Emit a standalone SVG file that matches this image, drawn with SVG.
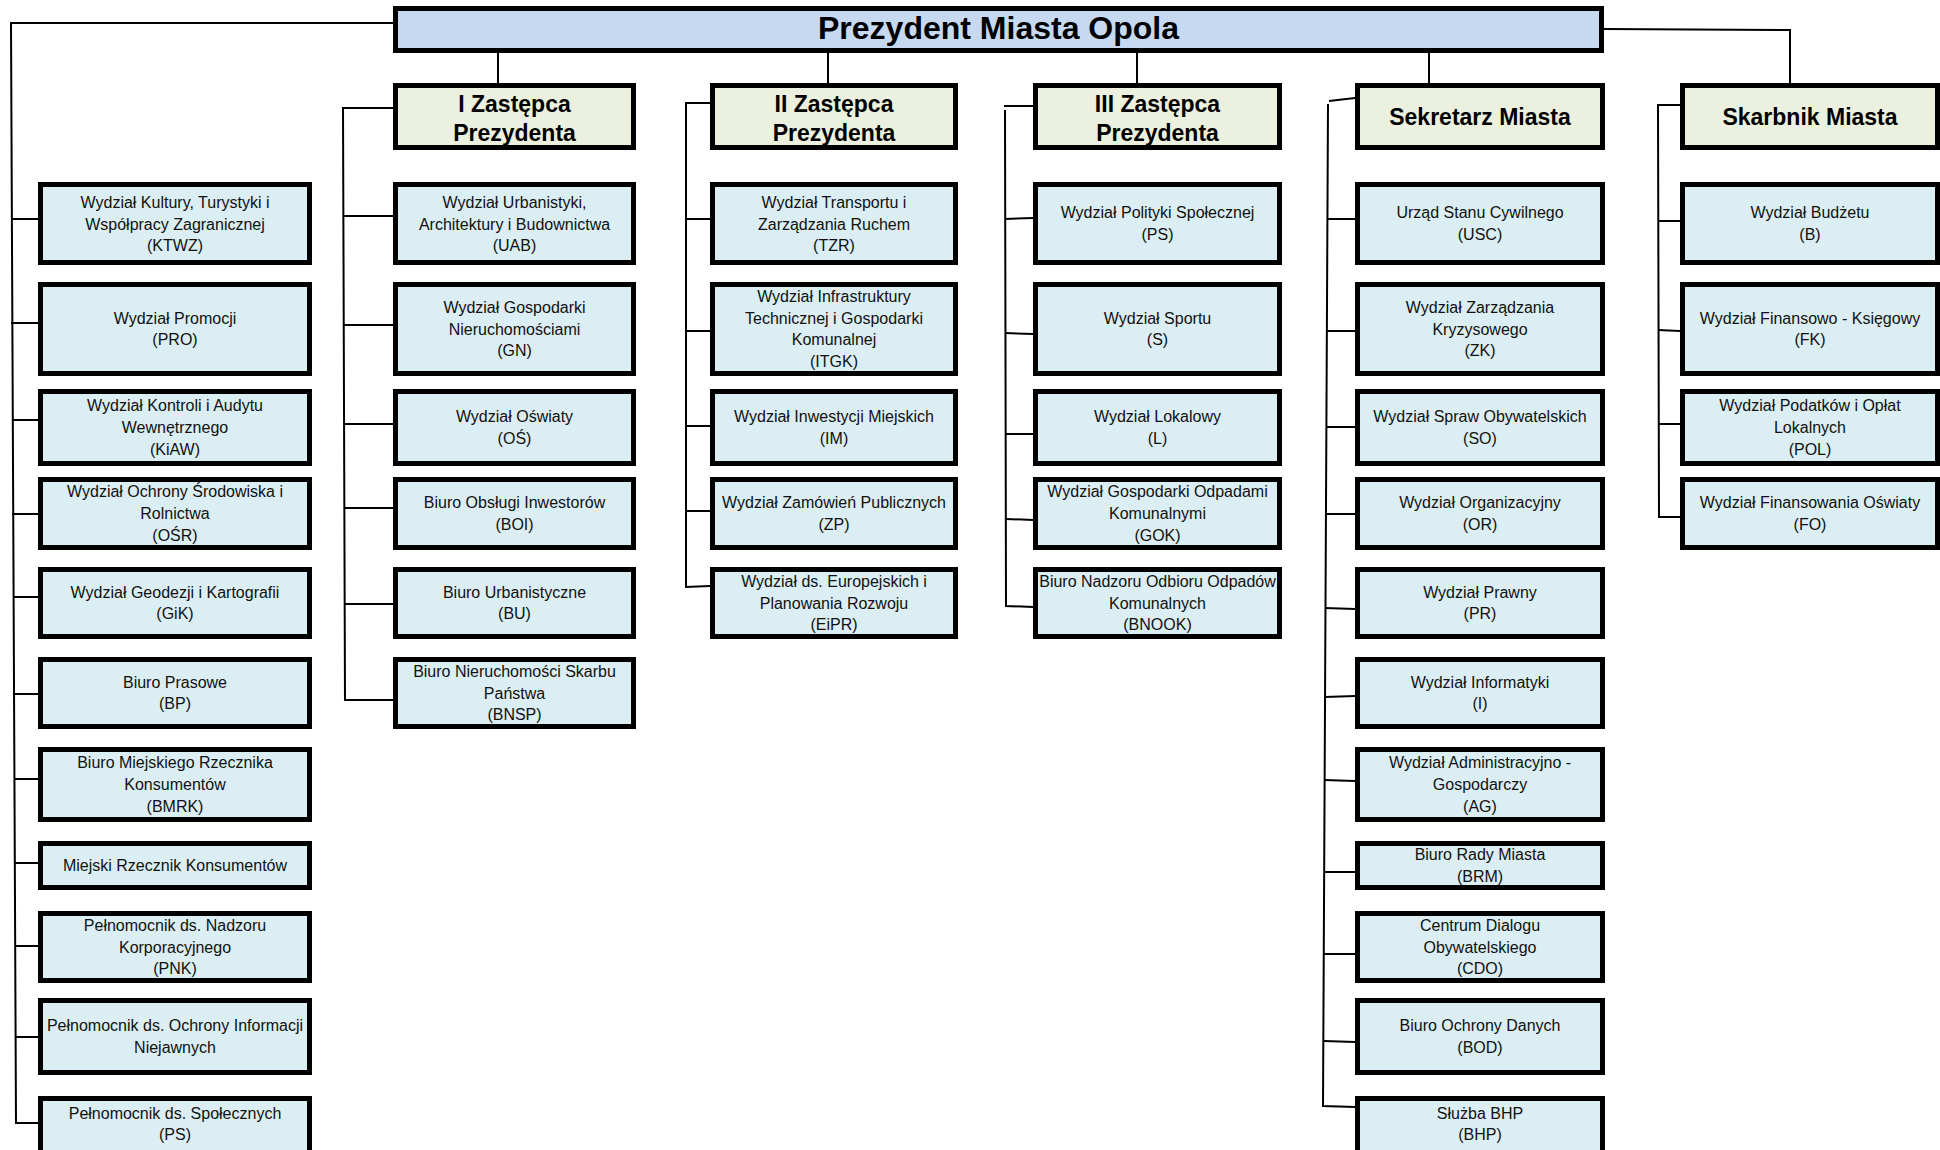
<svg xmlns="http://www.w3.org/2000/svg" width="1940" height="1150" viewBox="0 0 1940 1150">
<style>
.bx{fill:#dbeef3;stroke:#000;stroke-width:5}
.hd{fill:#ebf1de;stroke:#000;stroke-width:5}
.tp{fill:#c6d9f1;stroke:#000;stroke-width:5}
.t{font-family:"Liberation Sans",Arial,sans-serif;font-size:16px;fill:#111;text-anchor:middle}
.h{font-family:"Liberation Sans",Arial,sans-serif;font-size:23px;font-weight:bold;fill:#000;text-anchor:middle}
.ti{font-family:"Liberation Sans",Arial,sans-serif;font-size:32px;font-weight:bold;fill:#000;text-anchor:middle}
.c{fill:none;stroke:#000;stroke-width:2}
</style>
<rect width="1940" height="1150" fill="#fff"/>
<g id="connectors" class="c">
<polyline points="393,23 11,23 16,1124"/>
<line x1="11" y1="219" x2="38" y2="219"/>
<line x1="11" y1="323" x2="38" y2="323"/>
<line x1="12" y1="420" x2="38" y2="420"/>
<line x1="12" y1="514" x2="38" y2="514"/>
<line x1="13" y1="597" x2="38" y2="597"/>
<line x1="13" y1="694" x2="38" y2="694"/>
<line x1="14" y1="779" x2="38" y2="779"/>
<line x1="14" y1="863" x2="38" y2="863"/>
<line x1="15" y1="946" x2="38" y2="946"/>
<line x1="15" y1="1037" x2="38" y2="1037"/>
<line x1="16" y1="1123" x2="38" y2="1123"/>
<line x1="498" y1="53" x2="498" y2="83"/>
<line x1="828" y1="53" x2="828" y2="83"/>
<line x1="1137" y1="53" x2="1137" y2="83"/>
<line x1="1429" y1="53" x2="1429" y2="83"/>
<polyline points="1604,29 1790,30 1790,83"/>
<polyline points="393,108 343,108 345,700 393,700"/>
<line x1="344" y1="216" x2="393" y2="216"/>
<line x1="344" y1="325" x2="393" y2="325"/>
<line x1="344" y1="424" x2="393" y2="424"/>
<line x1="345" y1="508" x2="393" y2="508"/>
<line x1="345" y1="604" x2="393" y2="604"/>
<polyline points="710,103 686,103 686,587 710,586"/>
<line x1="686" y1="219" x2="710" y2="219"/>
<line x1="686" y1="331" x2="710" y2="331"/>
<line x1="686" y1="426" x2="710" y2="426"/>
<line x1="686" y1="511" x2="710" y2="511"/>
<polyline points="1033,106 1004,106"/>
<polyline points="1005,110 1006,606 1033,607"/>
<line x1="1005" y1="219" x2="1033" y2="218"/>
<line x1="1005" y1="333" x2="1033" y2="334"/>
<line x1="1005" y1="434" x2="1033" y2="434"/>
<line x1="1006" y1="519" x2="1033" y2="520"/>
<polyline points="1355,98 1329,101"/>
<polyline points="1328,104 1323,1106 1355,1107"/>
<line x1="1327" y1="219" x2="1355" y2="219"/>
<line x1="1327" y1="331" x2="1355" y2="331"/>
<line x1="1327" y1="427" x2="1355" y2="427"/>
<line x1="1326" y1="514" x2="1355" y2="514"/>
<line x1="1325" y1="608" x2="1355" y2="609"/>
<line x1="1325" y1="697" x2="1355" y2="696"/>
<line x1="1324" y1="780" x2="1355" y2="781"/>
<line x1="1324" y1="872" x2="1355" y2="872"/>
<line x1="1324" y1="954" x2="1355" y2="954"/>
<line x1="1324" y1="1041" x2="1355" y2="1042"/>
<polyline points="1680,105 1658,105 1659,517 1680,517"/>
<line x1="1658" y1="221" x2="1680" y2="221"/>
<line x1="1658" y1="330" x2="1680" y2="331"/>
<line x1="1658" y1="424" x2="1680" y2="424"/>
</g>
<g id="prezydent"><rect class="tp" x="395.5" y="8.5" width="1206" height="42"/><text class="ti" x="998.5" y="39">Prezydent Miasta Opola</text></g>
<g id="zastepca1"><rect class="hd" x="395.5" y="85.5" width="238" height="62"/><text class="h" x="514.5"><tspan x="514.5" y="112">I Zastępca</tspan><tspan x="514.5" y="140.5">Prezydenta</tspan></text></g>
<g id="zastepca2"><rect class="hd" x="712.5" y="85.5" width="243" height="62"/><text class="h" x="834"><tspan x="834" y="112">II Zastępca</tspan><tspan x="834" y="140.5">Prezydenta</tspan></text></g>
<g id="zastepca3"><rect class="hd" x="1035.5" y="85.5" width="244" height="62"/><text class="h" x="1157.5"><tspan x="1157.5" y="112">III Zastępca</tspan><tspan x="1157.5" y="140.5">Prezydenta</tspan></text></g>
<g id="sekretarz"><rect class="hd" x="1357.5" y="85.5" width="245" height="62"/><text class="h" x="1480" y="125">Sekretarz Miasta</text></g>
<g id="skarbnik"><rect class="hd" x="1682.5" y="85.5" width="255" height="62"/><text class="h" x="1810" y="125">Skarbnik Miasta</text></g>

<g id="ktwz"><rect class="bx" x="40.5" y="184.5" width="269" height="78"/><text class="t"><tspan x="175" y="208">Wydział Kultury, Turystyki i</tspan><tspan x="175" y="229.5">Współpracy Zagranicznej</tspan><tspan x="175" y="251">(KTWZ)</tspan></text></g>
<g id="pro"><rect class="bx" x="40.5" y="284.5" width="269" height="89"/><text class="t"><tspan x="175" y="323.6">Wydział Promocji</tspan><tspan x="175" y="345.4">(PRO)</tspan></text></g>
<g id="kiaw"><rect class="bx" x="40.5" y="391.5" width="269" height="72"/><text class="t"><tspan x="175" y="411.3">Wydział Kontroli i Audytu</tspan><tspan x="175" y="433">Wewnętrznego</tspan><tspan x="175" y="454.7">(KiAW)</tspan></text></g>
<g id="osr"><rect class="bx" x="40.5" y="479.5" width="269" height="68"/><text class="t"><tspan x="175" y="497.3">Wydział Ochrony Środowiska i</tspan><tspan x="175" y="519">Rolnictwa</tspan><tspan x="175" y="540.7">(OŚR)</tspan></text></g>
<g id="gik"><rect class="bx" x="40.5" y="569.5" width="269" height="67"/><text class="t"><tspan x="175" y="597.6">Wydział Geodezji i Kartografii</tspan><tspan x="175" y="619.3">(GiK)</tspan></text></g>
<g id="bp"><rect class="bx" x="40.5" y="659.5" width="269" height="67"/><text class="t"><tspan x="175" y="687.6">Biuro Prasowe</tspan><tspan x="175" y="709.3">(BP)</tspan></text></g>
<g id="bmrk"><rect class="bx" x="40.5" y="749.5" width="269" height="70"/><text class="t"><tspan x="175" y="768.3">Biuro Miejskiego Rzecznika</tspan><tspan x="175" y="790">Konsumentów</tspan><tspan x="175" y="811.7">(BMRK)</tspan></text></g>
<g id="mrk"><rect class="bx" x="40.5" y="843.5" width="269" height="44"/><text class="t" x="175" y="871">Miejski Rzecznik Konsumentów</text></g>
<g id="pnk"><rect class="bx" x="40.5" y="913.5" width="269" height="67"/><text class="t"><tspan x="175" y="930.8">Pełnomocnik ds. Nadzoru</tspan><tspan x="175" y="952.5">Korporacyjnego</tspan><tspan x="175" y="974.2">(PNK)</tspan></text></g>
<g id="poin"><rect class="bx" x="40.5" y="1000.5" width="269" height="72"/><text class="t"><tspan x="175" y="1031.2">Pełnomocnik ds. Ochrony Informacji</tspan><tspan x="175" y="1052.9">Niejawnych</tspan></text></g>
<g id="ps-spol"><rect class="bx" x="40.5" y="1098.5" width="269" height="70"/><text class="t"><tspan x="175" y="1119">Pełnomocnik ds. Społecznych</tspan><tspan x="175" y="1140">(PS)</tspan></text></g>

<g id="uab"><rect class="bx" x="395.5" y="184.5" width="238" height="78"/><text class="t"><tspan x="514.5" y="208">Wydział Urbanistyki,</tspan><tspan x="514.5" y="229.5">Architektury i Budownictwa</tspan><tspan x="514.5" y="251">(UAB)</tspan></text></g>
<g id="gn"><rect class="bx" x="395.5" y="284.5" width="238" height="89"/><text class="t"><tspan x="514.5" y="312.8">Wydział Gospodarki</tspan><tspan x="514.5" y="334.5">Nieruchomościami</tspan><tspan x="514.5" y="356.2">(GN)</tspan></text></g>
<g id="os"><rect class="bx" x="395.5" y="391.5" width="238" height="72"/><text class="t"><tspan x="514.5" y="422.2">Wydział Oświaty</tspan><tspan x="514.5" y="443.9">(OŚ)</tspan></text></g>
<g id="boi"><rect class="bx" x="395.5" y="479.5" width="238" height="68"/><text class="t"><tspan x="514.5" y="508.2">Biuro Obsługi Inwestorów</tspan><tspan x="514.5" y="529.9">(BOI)</tspan></text></g>
<g id="bu"><rect class="bx" x="395.5" y="569.5" width="238" height="67"/><text class="t"><tspan x="514.5" y="597.6">Biuro Urbanistyczne</tspan><tspan x="514.5" y="619.3">(BU)</tspan></text></g>
<g id="bnsp"><rect class="bx" x="395.5" y="659.5" width="238" height="67"/><text class="t"><tspan x="514.5" y="676.8">Biuro Nieruchomości Skarbu</tspan><tspan x="514.5" y="698.5">Państwa</tspan><tspan x="514.5" y="720.2">(BNSP)</tspan></text></g>

<g id="tzr"><rect class="bx" x="712.5" y="184.5" width="243" height="78"/><text class="t"><tspan x="834" y="208">Wydział Transportu i</tspan><tspan x="834" y="229.5">Zarządzania Ruchem</tspan><tspan x="834" y="251">(TZR)</tspan></text></g>
<g id="itgk"><rect class="bx" x="712.5" y="284.5" width="243" height="89"/><text class="t"><tspan x="834" y="302">Wydział Infrastruktury</tspan><tspan x="834" y="323.7">Technicznej i Gospodarki</tspan><tspan x="834" y="345.4">Komunalnej</tspan><tspan x="834" y="367">(ITGK)</tspan></text></g>
<g id="im"><rect class="bx" x="712.5" y="391.5" width="243" height="72"/><text class="t"><tspan x="834" y="422.2">Wydział Inwestycji Miejskich</tspan><tspan x="834" y="443.9">(IM)</tspan></text></g>
<g id="zp"><rect class="bx" x="712.5" y="479.5" width="243" height="68"/><text class="t"><tspan x="834" y="508.2">Wydział Zamówień Publicznych</tspan><tspan x="834" y="529.9">(ZP)</tspan></text></g>
<g id="eipr"><rect class="bx" x="712.5" y="569.5" width="243" height="67"/><text class="t"><tspan x="834" y="586.8">Wydział ds. Europejskich i</tspan><tspan x="834" y="608.5">Planowania Rozwoju</tspan><tspan x="834" y="630.2">(EiPR)</tspan></text></g>

<g id="ps"><rect class="bx" x="1035.5" y="184.5" width="244" height="78"/><text class="t"><tspan x="1157.5" y="218">Wydział Polityki Społecznej</tspan><tspan x="1157.5" y="240">(PS)</tspan></text></g>
<g id="s"><rect class="bx" x="1035.5" y="284.5" width="244" height="89"/><text class="t"><tspan x="1157.5" y="323.6">Wydział Sportu</tspan><tspan x="1157.5" y="345.4">(S)</tspan></text></g>
<g id="l"><rect class="bx" x="1035.5" y="391.5" width="244" height="72"/><text class="t"><tspan x="1157.5" y="422.2">Wydział Lokalowy</tspan><tspan x="1157.5" y="443.9">(L)</tspan></text></g>
<g id="gok"><rect class="bx" x="1035.5" y="479.5" width="244" height="68"/><text class="t"><tspan x="1157.5" y="497.3">Wydział Gospodarki Odpadami</tspan><tspan x="1157.5" y="519">Komunalnymi</tspan><tspan x="1157.5" y="540.7">(GOK)</tspan></text></g>
<g id="bnook"><rect class="bx" x="1035.5" y="569.5" width="244" height="67"/><text class="t"><tspan x="1157.5" y="586.8">Biuro Nadzoru Odbioru Odpadów</tspan><tspan x="1157.5" y="608.5">Komunalnych</tspan><tspan x="1157.5" y="630.2">(BNOOK)</tspan></text></g>

<g id="usc"><rect class="bx" x="1357.5" y="184.5" width="245" height="78"/><text class="t"><tspan x="1480" y="218">Urząd Stanu Cywilnego</tspan><tspan x="1480" y="240">(USC)</tspan></text></g>
<g id="zk"><rect class="bx" x="1357.5" y="284.5" width="245" height="89"/><text class="t"><tspan x="1480" y="312.8">Wydział Zarządzania</tspan><tspan x="1480" y="334.5">Kryzysowego</tspan><tspan x="1480" y="356.2">(ZK)</tspan></text></g>
<g id="so"><rect class="bx" x="1357.5" y="391.5" width="245" height="72"/><text class="t"><tspan x="1480" y="422.2">Wydział Spraw Obywatelskich</tspan><tspan x="1480" y="443.9">(SO)</tspan></text></g>
<g id="or"><rect class="bx" x="1357.5" y="479.5" width="245" height="68"/><text class="t"><tspan x="1480" y="508.2">Wydział Organizacyjny</tspan><tspan x="1480" y="529.9">(OR)</tspan></text></g>
<g id="pr"><rect class="bx" x="1357.5" y="569.5" width="245" height="67"/><text class="t"><tspan x="1480" y="597.6">Wydział Prawny</tspan><tspan x="1480" y="619.3">(PR)</tspan></text></g>
<g id="i"><rect class="bx" x="1357.5" y="659.5" width="245" height="67"/><text class="t"><tspan x="1480" y="687.6">Wydział Informatyki</tspan><tspan x="1480" y="709.3">(I)</tspan></text></g>
<g id="ag"><rect class="bx" x="1357.5" y="749.5" width="245" height="70"/><text class="t"><tspan x="1480" y="768.3">Wydział Administracyjno -</tspan><tspan x="1480" y="790">Gospodarczy</tspan><tspan x="1480" y="811.7">(AG)</tspan></text></g>
<g id="brm"><rect class="bx" x="1357.5" y="843.5" width="245" height="44"/><text class="t"><tspan x="1480" y="860.2">Biuro Rady Miasta</tspan><tspan x="1480" y="881.9">(BRM)</tspan></text></g>
<g id="cdo"><rect class="bx" x="1357.5" y="913.5" width="245" height="67"/><text class="t"><tspan x="1480" y="930.8">Centrum Dialogu</tspan><tspan x="1480" y="952.5">Obywatelskiego</tspan><tspan x="1480" y="974.2">(CDO)</tspan></text></g>
<g id="bod"><rect class="bx" x="1357.5" y="1000.5" width="245" height="72"/><text class="t"><tspan x="1480" y="1031.2">Biuro Ochrony Danych</tspan><tspan x="1480" y="1052.9">(BOD)</tspan></text></g>
<g id="bhp"><rect class="bx" x="1357.5" y="1098.5" width="245" height="70"/><text class="t"><tspan x="1480" y="1119">Służba BHP</tspan><tspan x="1480" y="1140">(BHP)</tspan></text></g>

<g id="b"><rect class="bx" x="1682.5" y="184.5" width="255" height="78"/><text class="t"><tspan x="1810" y="218">Wydział Budżetu</tspan><tspan x="1810" y="240">(B)</tspan></text></g>
<g id="fk"><rect class="bx" x="1682.5" y="284.5" width="255" height="89"/><text class="t"><tspan x="1810" y="323.6">Wydział Finansowo - Księgowy</tspan><tspan x="1810" y="345.4">(FK)</tspan></text></g>
<g id="pol"><rect class="bx" x="1682.5" y="391.5" width="255" height="72"/><text class="t"><tspan x="1810" y="411.3">Wydział Podatków i Opłat</tspan><tspan x="1810" y="433">Lokalnych</tspan><tspan x="1810" y="454.7">(POL)</tspan></text></g>
<g id="fo"><rect class="bx" x="1682.5" y="479.5" width="255" height="68"/><text class="t"><tspan x="1810" y="508.2">Wydział Finansowania Oświaty</tspan><tspan x="1810" y="529.9">(FO)</tspan></text></g>
</svg>
